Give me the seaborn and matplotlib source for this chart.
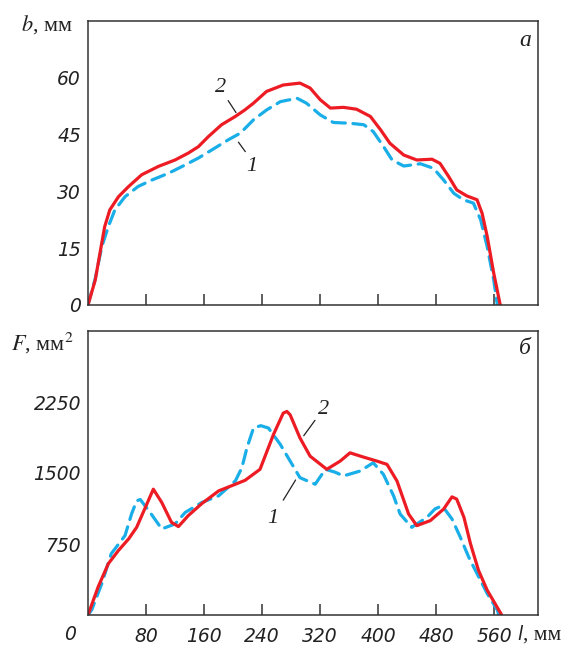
import numpy as np
import pandas as pd
import matplotlib
matplotlib.use("Agg")
import matplotlib.pyplot as plt
import seaborn as sns

# ---- data ----
# panel a: width b, mm vs length l, mm  (curve 2 red, curve 1 blue dashed)
b2_l = [0, 10, 16.5, 23, 30, 42, 56, 74, 97, 120, 138, 152, 166, 184, 203, 216, 228, 246, 269, 292, 306, 320, 334,
        352, 370, 389, 403, 416, 435, 453, 474, 485, 497, 508, 522, 536, 543, 550, 559, 568]
b2_v = [0, 6.6, 13.7, 20.7, 25.1, 28.6, 31.3, 34.4, 36.6, 38.3, 40.1, 41.8, 44.5, 47.6, 49.8, 51.5, 53.3, 56.4, 58.1,
        58.6, 57.3, 54.2, 52, 52.2, 51.7, 49.8, 46.3, 42.7, 39.6, 38.3, 38.5, 37.4, 33.9, 30.4, 28.8, 27.8, 24.2, 18.1,
        8.4, 0]
b1_l = [0, 10, 19, 28, 37, 51, 69, 88, 111, 134, 152, 171, 193, 210, 228, 246, 265, 288, 301, 320, 338, 361, 380,
        393, 407, 419, 435, 458, 476, 490, 504, 517, 531, 541, 550, 559, 564]
b1_v = [0, 7, 15.4, 20.7, 25.1, 28.6, 31.3, 33, 34.8, 37, 38.8, 41, 43.6, 45.4, 48.9, 51.5, 53.7, 54.6, 53.3, 50.2,
        48.2, 48, 47.6, 45.8, 41.9, 38.3, 36.7, 37.3, 36.1, 33, 29.5, 27.8, 26.9, 22.5, 15.4, 6.6, 0]

# panel b: area F, mm^2 vs length l, mm
f2_l = [0, 14, 28, 42, 56, 67, 79, 90, 101.6, 115, 124.6, 138, 157, 180, 203, 216.5, 237, 255.5, 269, 274, 278.5,
        292, 306, 329, 347.5, 361, 379.6, 398, 412, 425.7, 441.7, 453, 471.6, 490, 501.5, 508, 518, 527, 538, 550, 570]
f2_v = [0, 297, 542, 682, 804, 926, 1136, 1329, 1189, 979, 934, 1049, 1178, 1311, 1381, 1423, 1539, 1906, 2133, 2150,
        2115, 1871, 1678, 1539, 1626, 1713, 1668, 1626, 1591, 1416, 1067, 944, 997, 1119, 1248, 1224, 1031, 752, 472,
        262, 0]
f1_l = [0, 5, 19, 32, 51, 60, 67, 72, 85.5, 101.6, 120, 134, 157, 180, 203, 212, 219, 228, 238, 248.6, 265, 278.5,
        292, 313, 327, 340, 352, 375, 393, 407, 421, 430, 446, 467, 478, 488, 501.5, 513, 524.5, 536, 550, 564, 566]
f1_v = [0, 52, 332, 647, 839, 1067, 1206, 1220, 1084, 909, 962, 1084, 1189, 1259, 1416, 1556, 1766, 1975, 2000, 1975,
        1801, 1626, 1451, 1381, 1539, 1510, 1469, 1521, 1608, 1486, 1259, 1067, 926, 1031, 1120, 1154, 1014, 821, 612,
        437, 227, 52, 0]

x_ticks = [80, 160, 240, 320, 400, 480, 560]
b_ticks = [0, 15, 30, 45, 60]
f_ticks = [750, 1500, 2250]

RED = "#ED1C24"
BLUE = "#1AAEE8"

sns.set_theme(style="white")
plt.rcParams["font.family"] = ["DejaVu Sans"]
plt.rcParams["mathtext.fontset"] = "stix"

fig = plt.figure(figsize=(5.68, 6.46), dpi=100)
W, H = 568.0, 646.0
ax1 = fig.add_axes([88 / W, 1 - 305 / H, 450 / W, 284 / H])
ax2 = fig.add_axes([88 / W, 1 - 615 / H, 450 / W, 284 / H])

da1 = pd.DataFrame({"l": b1_l, "v": b1_v})
da2 = pd.DataFrame({"l": b2_l, "v": b2_v})
db1 = pd.DataFrame({"l": f1_l, "v": f1_v})
db2 = pd.DataFrame({"l": f2_l, "v": f2_v})

for ax, d1, d2 in [(ax1, da1, da2), (ax2, db1, db2)]:
    sns.lineplot(data=d1, x="l", y="v", ax=ax, color=BLUE, lw=2.3,
                 linestyle=(0, (4.2, 2.4)), sort=False)
    sns.lineplot(data=d2, x="l", y="v", ax=ax, color=RED, lw=2.3, sort=False)
    for ln in ax.get_lines():
        ln.set_solid_joinstyle("round")
        ln.set_dash_joinstyle("round")
        ln.set_dash_capstyle("round")
    ax.set_xlim(0, 620)
    ax.set_xticks(x_ticks)
    ax.set_xlabel("")
    ax.set_ylabel("")
    for s in ax.spines.values():
        s.set_color("#333333")
        s.set_linewidth(1.1)
    ax.tick_params(axis="x", direction="in", length=8, width=1.1, color="#333333",
                   bottom=True, pad=9)
    ax.tick_params(axis="y", length=0, pad=5)

tick_font = dict(family="DejaVu Sans", style="italic", size=13.5, color="#222222")

ax1.set_ylim(0, 75)
ax1.set_yticks(b_ticks)
ax1.set_yticklabels([str(t) for t in b_ticks], **tick_font)
ax1.set_xticklabels([])

ax2.set_ylim(0, 3000)
ax2.set_yticks(f_ticks)
ax2.set_yticklabels([str(t) for t in f_ticks], **tick_font)
ax2.set_xticklabels([str(t) for t in x_ticks], **tick_font)

# corner "0" of panel b
fig.text(70 / W, 1 - 635 / H, "0", ha="center", va="center", **tick_font)

# axis titles
serif = ["Liberation Serif", "DejaVu Serif"]
fig.text(21 / W, 1 - 25 / H, "$b$, мм", family=serif, size=16, ha="left", va="center", color="#222222")
fig.text(11 / W, 1 - 343 / H, "$F$, мм$^2$", family=serif, size=16, ha="left", va="center", color="#222222")
fig.text(517 / W, 1 - 635 / H, "l", ha="left", va="center", **tick_font)
fig.text(523 / W, 1 - 635 / H, ", мм", family=serif, size=15.5, ha="left", va="center", color="#222222")

# panel letters
ax1.text(0.971, 0.933, "a", transform=ax1.transAxes, family=serif, style="italic",
         size=17, ha="center", va="center", color="#222222")
ax2.text(0.971, 0.94, "б", transform=ax2.transAxes, family=serif, style="italic",
         size=17, ha="center", va="center", color="#222222")

# curve labels
lab = dict(family=serif, style="italic", size=16, ha="center", va="center", color="#222222")
ax1.annotate("", xy=(206, 50.2), xytext=(191, 54.6),
             arrowprops=dict(arrowstyle="-", color="#222222", lw=0.9))
ax1.text(182, 57.4, "2", **lab)
ax1.annotate("", xy=(205, 43.6), xytext=(219, 39.9),
             arrowprops=dict(arrowstyle="-", color="#222222", lw=0.9))
ax1.text(226, 36.5, "1", **lab)

ax2.annotate("", xy=(288, 1451), xytext=(267, 1188),
             arrowprops=dict(arrowstyle="-", color="#222222", lw=0.9))
ax2.text(255, 1018, "1", **lab)
ax2.annotate("", xy=(295, 1870), xytext=(315, 2080),
             arrowprops=dict(arrowstyle="-", color="#222222", lw=0.9))
ax2.text(324, 2171, "2", **lab)

fig.savefig("out.png", dpi=100)
